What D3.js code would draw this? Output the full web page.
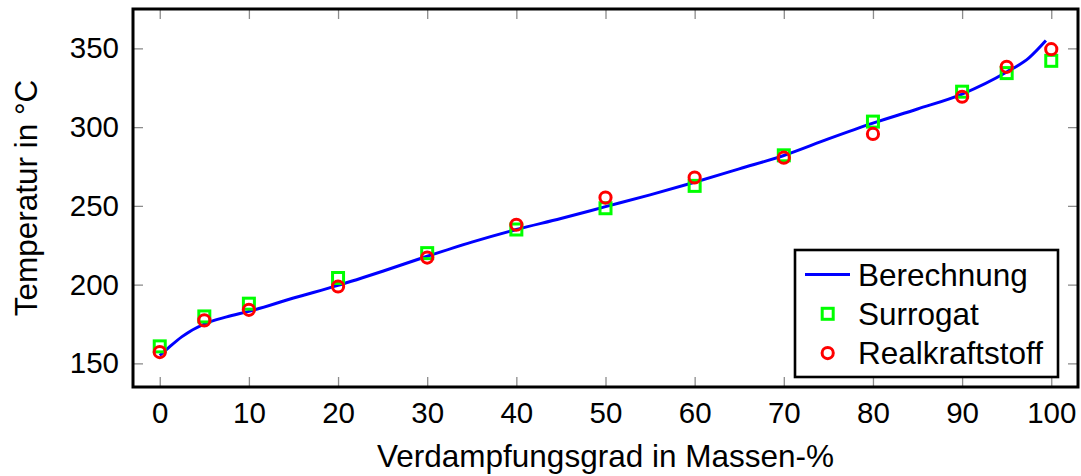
<!DOCTYPE html>
<html>
<head>
<meta charset="utf-8">
<script src="https://cdn.jsdelivr.net/npm/d3@7"></script>
<style>
  html, body { margin: 0; padding: 0; background: #fff; }
  svg { display: block; }
  text { font-family: "Liberation Sans", Arial, Helvetica, sans-serif; fill: #000; }
</style>
</head>
<body>
<svg id="chart" width="1081" height="476"></svg>
<script>
// ---- data ----
const calcX = [0, 1, 2.5, 5, 7.5, 10, 15, 20, 25, 30, 35, 40, 45, 50, 55, 60, 65, 70, 75, 80, 85, 90, 95, 97.5, 99.4];
const calcY = [155, 160, 167, 175, 179.5, 183, 191.5, 199.5, 208.5, 218, 227, 235, 242, 249.5, 257, 265, 273.5, 282, 292.5, 302.5, 311.5, 321, 335, 344, 355];
const measX = [0, 5, 10, 20, 30, 40, 50, 60, 70, 80, 90, 95, 100];
const surrogatY = [160.8, 179.8, 187.9, 204.2, 220, 235, 248.5, 262.7, 282.1, 303.5, 322.5, 334.3, 342.1];
const realY = [157.2, 177.3, 184, 198.8, 217.2, 238, 255.3, 268, 280.6, 295.7, 319.3, 338.3, 349.5];
const xTicks = [0, 10, 20, 30, 40, 50, 60, 70, 80, 90, 100];
const yTicks = [150, 200, 250, 300, 350];
const legendLabels = ["Berechnung", "Surrogat", "Realkraftstoff"];
const xLabel = "Verdampfungsgrad in Massen-%";
const yLabel = "Temperatur in °C";

// ---- layout ----
const L = 133, R = 1078, T = 9, B = 387;
const svg = d3.select("#chart");
const x = d3.scaleLinear().domain([-3, 103]).range([L, R]);
const y = d3.scaleLinear().domain([135, 375]).range([B, T]);

const tickFont = "29.5px";
const labelFont = "31.5px";
const tickColor = "#8c8c8c";

function styleAxis(g, showLabels) {
  g.select(".domain").remove();
  g.selectAll(".tick line").attr("stroke", tickColor).attr("stroke-width", 1.3);
  g.selectAll(".tick text").style("font-size", tickFont).attr("fill", "#000");
  if (!showLabels) g.selectAll(".tick text").remove();
}

svg.append("g").attr("transform", `translate(0,${B})`)
  .call(d3.axisBottom(x).tickValues(xTicks).tickSize(-10).tickPadding(15))
  .call(g => styleAxis(g, true));
svg.append("g").attr("transform", `translate(0,${T})`)
  .call(d3.axisTop(x).tickValues(xTicks).tickSize(-10).tickFormat(""))
  .call(g => styleAxis(g, false));
svg.append("g").attr("transform", `translate(${L},0)`)
  .call(d3.axisLeft(y).tickValues(yTicks).tickSize(-10).tickPadding(14))
  .call(g => styleAxis(g, true));
svg.append("g").attr("transform", `translate(${R},0)`)
  .call(d3.axisRight(y).tickValues(yTicks).tickSize(-10).tickFormat(""))
  .call(g => styleAxis(g, false));

// ---- marks ----
const calc = calcX.map((v, i) => [v, calcY[i]]);
const line = d3.line().x(d => x(d[0])).y(d => y(d[1])).curve(d3.curveMonotoneX);
svg.append("path").datum(calc)
  .attr("d", line).attr("fill", "none").attr("stroke", "#0000ff").attr("stroke-width", 3);

const sq = 11;
const ms = 3;
svg.append("g").selectAll("rect").data(measX.map((v, i) => [v, surrogatY[i]])).join("rect")
  .attr("x", d => x(d[0]) - sq / 2).attr("y", d => y(d[1]) - sq / 2)
  .attr("width", sq).attr("height", sq)
  .attr("fill", "none").attr("stroke", "#00ff00").attr("stroke-width", ms);

svg.append("g").selectAll("circle").data(measX.map((v, i) => [v, realY[i]])).join("circle")
  .attr("cx", d => x(d[0])).attr("cy", d => y(d[1])).attr("r", 5.6)
  .attr("fill", "none").attr("stroke", "#ff0000").attr("stroke-width", ms);

// ---- frame ----
svg.append("rect").attr("x", L).attr("y", T).attr("width", R - L).attr("height", B - T)
  .attr("fill", "none").attr("stroke", "#000").attr("stroke-width", 3);

// ---- axis labels ----
svg.append("text").attr("x", (L + R) / 2).attr("y", 467).attr("text-anchor", "middle")
  .style("font-size", labelFont).text(xLabel);
svg.append("text").attr("transform", `translate(37,${(T + B) / 2}) rotate(-90)`)
  .attr("text-anchor", "middle").style("font-size", labelFont).text(yLabel);

// ---- legend ----
const lg = svg.append("g").attr("transform", "translate(795,250)");
lg.append("rect").attr("width", 263).attr("height", 127)
  .attr("fill", "#fff").attr("stroke", "#000").attr("stroke-width", 2.6);
const rowY = i => 24.5 + i * 39.3;
lg.append("line").attr("x1", 10).attr("x2", 55).attr("y1", rowY(0)).attr("y2", rowY(0))
  .attr("stroke", "#0000ff").attr("stroke-width", 3);
lg.append("rect").attr("x", 32.7 - sq / 2).attr("y", rowY(1) - sq / 2).attr("width", sq).attr("height", sq)
  .attr("fill", "none").attr("stroke", "#00ff00").attr("stroke-width", ms);
lg.append("circle").attr("cx", 32.7).attr("cy", rowY(2)).attr("r", 5.6)
  .attr("fill", "none").attr("stroke", "#ff0000").attr("stroke-width", ms);
lg.selectAll("text.lab").data(legendLabels).join("text").attr("class", "lab")
  .attr("x", 63).attr("y", (d, i) => rowY(i)).attr("dy", "0.35em")
  .style("font-size", labelFont).text(d => d);
</script>
</body>
</html>
